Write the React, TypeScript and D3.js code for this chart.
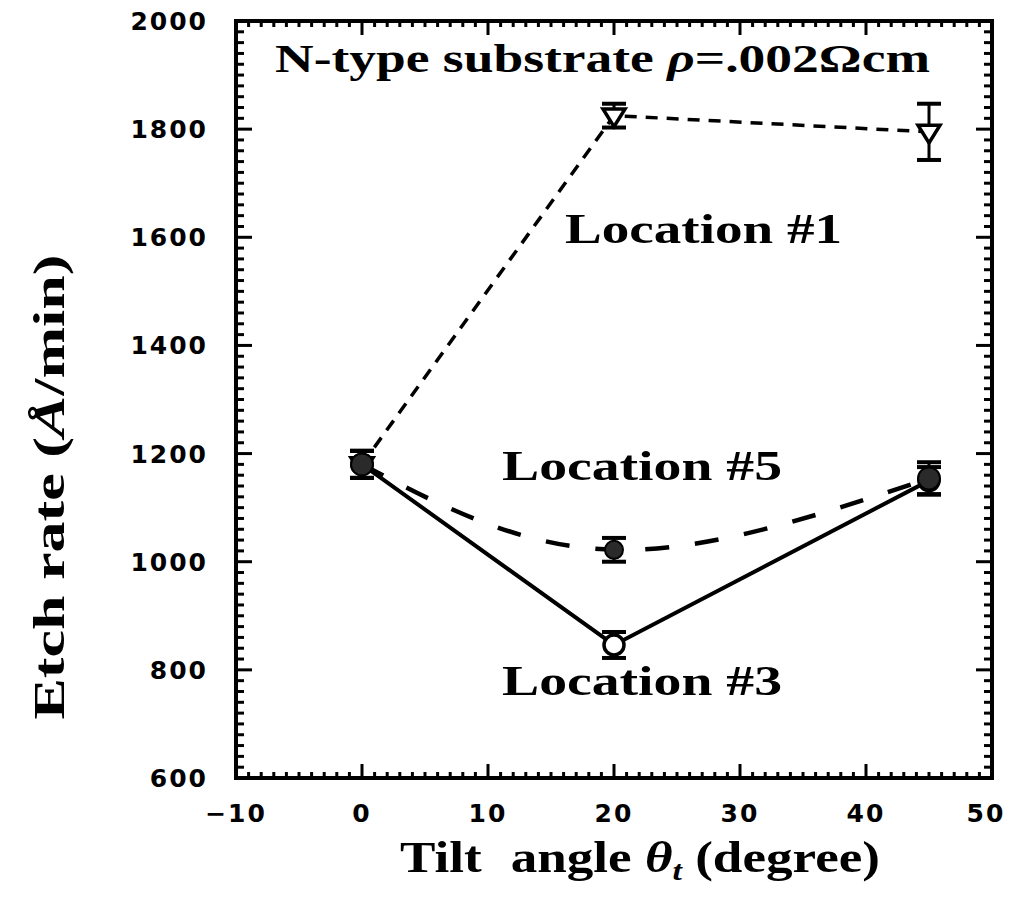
import React from "react";
import * as d3 from "d3";

// tilt angles (degree)
const tilt = [0, 20, 45];

// etch rate (A/min) with error half-widths, per location
const loc1 = [1180, 1825, 1795];
const loc1Err = [25, 22, 52];
const loc5 = [1180, 1022, 1154];
const loc5Err = [25, 22, 30];
const loc3 = [1180, 846, 1150];
const loc3Err = [25, 24, 25];

const xTicks = [-10, 0, 10, 20, 30, 40, 50];
const yTicks = [600, 800, 1000, 1200, 1400, 1600, 1800, 2000];

const W = 1011;
const H = 906;
const margin = { left: 236, right: 19, top: 21, bottom: 128 };

const serif = "'Liberation Serif', 'DejaVu Serif', serif";
const sans = "'DejaVu Sans', 'Liberation Sans', sans-serif";

const App = () => {
  const x = d3.scaleLinear().domain([-10, 50]).range([margin.left, W - margin.right]);
  const y = d3.scaleLinear().domain([600, 2000]).range([H - margin.bottom, margin.top]);

  const [x0, x1] = x.range();
  const [y0, y1] = y.range();

  const xMinor = d3.range(-10, 50.001, 1);
  const yMinor = d3.range(600, 2000.001, 20);

  const pts = (vals: number[]) => tilt.map((t, i) => [t, vals[i]] as [number, number]);

  const straight = d3.line<[number, number]>().x(d => x(d[0])).y(d => y(d[1]));
  const smooth = d3.line<[number, number]>().x(d => x(d[0])).y(d => y(d[1])).curve(d3.curveNatural);

  const errBars = (vals: number[], errs: number[], key: string) =>
    tilt.map((t, i) => {
      const cx = x(t);
      const top = y(vals[i] + errs[i]);
      const bot = y(vals[i] - errs[i]);
      return (
        <g key={key + i} stroke="#000" strokeWidth={4}>
          <line x1={cx} x2={cx} y1={top} y2={bot} strokeWidth={3} />
          <line x1={cx - 12} x2={cx + 12} y1={top} y2={top} />
          <line x1={cx - 12} x2={cx + 12} y1={bot} y2={bot} />
        </g>
      );
    });

  const tri = (cx: number, cy: number) => {
    const s = 11;
    return `M${cx - s},${cy - s * 0.6}L${cx + s},${cy - s * 0.6}L${cx},${cy + s * 1.0}Z`;
  };

  return (
    <svg width={W} height={H} style={{ position: "absolute", left: 0, top: 0, background: "#fff" }}>
      <rect x={0} y={0} width={W} height={H} fill="#fff" />

      {/* minor + major ticks on all four sides */}
      <g stroke="#000" strokeWidth={3}>
        {xMinor.map(v => {
          const major = Math.abs(v % 10) < 1e-6;
          const len = major ? 14 : 6;
          return (
            <g key={"xt" + v}>
              <line x1={x(v)} x2={x(v)} y1={y0} y2={y0 - len} />
              <line x1={x(v)} x2={x(v)} y1={y1} y2={y1 + len} />
            </g>
          );
        })}
        {yMinor.map(v => {
          const major = Math.abs(v % 200) < 1e-6;
          const len = major ? 16 : 8;
          return (
            <g key={"yt" + v}>
              <line x1={x0} x2={x0 + len} y1={y(v)} y2={y(v)} />
              <line x1={x1} x2={x1 - len} y1={y(v)} y2={y(v)} />
            </g>
          );
        })}
      </g>
      <rect x={x0} y={y1} width={x1 - x0} height={y0 - y1} fill="none" stroke="#000" strokeWidth={4} />

      {/* tick labels */}
      <g fontFamily={sans} fontWeight="bold" fontSize={25} fill="#000">
        {xTicks.map(v => (
          <text key={"xl" + v} x={x(v) - (v === 50 ? 6 : 0)} y={y0 + 44} textAnchor="middle" letterSpacing={2}>
            {v < 0 ? "\u2212" + Math.abs(v) : v}
          </text>
        ))}
        {yTicks.map(v => (
          <text key={"yl" + v} x={x0 - 28} y={y(v) + 9} textAnchor="end" letterSpacing={2}>
            {v}
          </text>
        ))}
      </g>

      {/* lines */}
      <path d={straight(pts(loc3)) || ""} fill="none" stroke="#000" strokeWidth={4} />
      <path d={smooth(pts(loc5)) || ""} fill="none" stroke="#000" strokeWidth={4.5} strokeDasharray="24 26" />
      <path d={straight(pts(loc1)) || ""} fill="none" stroke="#000" strokeWidth={3.5} strokeDasharray="12 9" />

      {/* error bars */}
      {errBars(loc1, loc1Err, "e1")}
      {errBars(loc3, loc3Err, "e3")}
      {errBars(loc5, loc5Err, "e5")}

      {/* markers */}
      {tilt.map((t, i) => (
        <path key={"m1" + i} d={tri(x(t), y(loc1[i]))} fill="#fff" stroke="#000" strokeWidth={3.5} />
      ))}
      {tilt.map((t, i) => (
        <circle key={"m3" + i} cx={x(t)} cy={y(loc3[i])} r={10} fill="#fff" stroke="#000" strokeWidth={3.5} />
      ))}
      {tilt.map((t, i) => (
        <circle key={"m5" + i} cx={x(t)} cy={y(loc5[i])} r={i === 1 ? 9 : 11} fill="#2a2a2a" stroke="#000" strokeWidth={2} />
      ))}

      {/* annotations */}
      <g fontFamily={serif} fontWeight="bold" fill="#000">
        <text x={275} y={72} fontSize={40} textLength={655} lengthAdjust="spacingAndGlyphs">
          N-type substrate <tspan fontStyle="italic">ρ</tspan>=.002Ωcm
        </text>
        <text x={565} y={243} fontSize={42} textLength={277} lengthAdjust="spacingAndGlyphs">Location #1</text>
        <text x={502} y={480} fontSize={42} textLength={280} lengthAdjust="spacingAndGlyphs">Location #5</text>
        <text x={502} y={695} fontSize={42} textLength={280} lengthAdjust="spacingAndGlyphs">Location #3</text>
        <text x={400} y={872} fontSize={44} textLength={480} lengthAdjust="spacingAndGlyphs">
          Tilt<tspan dx={24}>angle </tspan>
          <tspan fontStyle="italic">θ</tspan>
          <tspan fontStyle="italic" fontSize={28} dy={8}>t</tspan>
          <tspan dy={-8}> (degree)</tspan>
        </text>
        <text transform={`translate(64,487) rotate(-90)`} fontSize={44} textAnchor="middle" textLength={465} lengthAdjust="spacingAndGlyphs">
          Etch rate (<tspan fontStyle="italic">Å</tspan>/min)
        </text>
      </g>
    </svg>
  );
};

export default App;
